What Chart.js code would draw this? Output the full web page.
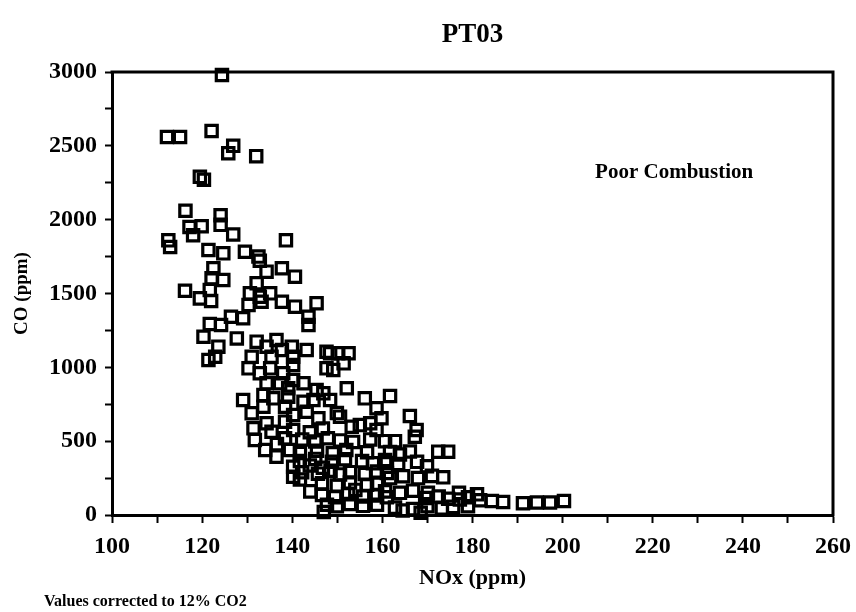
<!DOCTYPE html>
<html>
<head>
<meta charset="utf-8">
<title>PT03</title>
<script src="https://cdn.jsdelivr.net/npm/chart.js@4/dist/chart.umd.min.js"></script>
<style>
  html, body { margin: 0; padding: 0; background: #fff; }
  #wrap { width: 856px; height: 612px; }
</style>
</head>
<body>
<div id="wrap"><canvas id="chart" width="856" height="612"></canvas></div>
<script>
// Measured NOx (ppm) for each sample, paired index-by-index with coPpm
const noxPpm = [
  124.4, 112.2, 115.1, 122.1, 126.9, 125.8, 132.0, 119.5, 120.4, 116.3,
  124.1, 124.1, 117.2, 119.9, 118.0, 126.9, 112.5, 112.9, 138.6, 121.4,
  124.7, 129.5, 132.5, 132.8, 122.5, 124.7, 122.1, 132.1, 116.2, 119.5,
  122.0, 121.7, 130.6, 130.3, 132.8, 126.4, 129.1, 121.7, 124.2, 134.3,
  137.7, 140.6, 135.1, 137.7, 140.6, 133.2, 145.4, 143.6, 143.6, 120.3,
  127.7, 123.6, 122.9, 121.4, 132.1, 136.5, 134.3, 139.9, 131.0, 135.4,
  137.7, 140.2, 143.2, 147.6, 147.6, 130.3, 132.8, 135.1, 138.0, 140.2,
  134.3, 137.3, 140.2, 129.1, 133.6, 135.8, 139.1, 139.1, 142.5, 145.4,
  146.9, 131.0, 133.6, 138.4, 142.5, 144.7, 131.4, 134.3, 135.4, 138.4,
  140.2, 140.2, 143.2, 145.8, 131.7, 134.0, 136.5, 139.5, 138.4, 140.2,
  140.2, 148.4, 150.2, 152.5, 151.4, 149.1, 152.1, 156.1, 161.7, 158.7,
  159.8, 166.1, 148.4, 150.6, 153.2, 155.0, 157.3, 167.6, 167.2, 172.4,
  174.6, 149.9, 143.9, 146.8, 158.7, 136.6, 142.2, 145.1, 147.9, 150.6,
  153.5, 157.3, 160.6, 141.7, 145.5, 149.0, 152.0, 156.6, 141.7, 145.1,
  148.8, 151.7, 155.5, 157.9, 160.6, 142.2, 145.7, 148.5, 150.6, 152.8,
  156.1, 158.8, 161.0, 146.6, 149.9, 152.8, 156.6, 158.8, 146.6, 149.5,
  152.4, 155.7, 158.8, 161.0, 147.7, 149.9, 152.8, 155.7, 158.8, 141.7,
  143.9, 146.8, 162.8, 161.7, 163.9, 166.1, 161.0, 163.5, 167.7, 169.9,
  161.7, 164.6, 167.9, 171.0, 173.5, 160.6, 163.9, 166.8, 170.1, 169.5,
  172.5, 174.6, 177.2, 179.0, 181.7, 184.3, 186.8, 191.2, 194.3, 197.2,
  200.3, 162.8, 166.8, 170.0, 173.2, 175.7, 179.0, 177.0, 181.0, 144.0,
  154.0, 147.0, 164.5, 168.5
];

// Measured CO (ppm) for each sample
const coPpm = [
  2980, 2560, 2560, 2600, 2500, 2450, 2430, 2290, 2270, 2060,
  2030, 1965, 1950, 1955, 1895, 1900, 1860, 1815, 1860, 1795,
  1772, 1783, 1750, 1722, 1671, 1591, 1603, 1569, 1519, 1467,
  1449, 1524, 1501, 1422, 1478, 1343, 1332, 1293, 1287, 1648,
  1671, 1614, 1501, 1444, 1411, 1444, 1434, 1343, 1287, 1207,
  1196, 1140, 1072, 1050, 1174, 1185, 1140, 1140, 1072, 1072,
  1117, 1072, 1117, 1106,  993,  993,  960,  993,  960, 1016,
   892,  892,  914,  779,  813,  790,  801,  858,  892,  846,
   824,  689,  733,  733,  767,  779,  587,  621,  564,  632,
   576,  677,  700,  655,  508,  440,  395,  440,  519,  327,
   259, 1095, 1095, 1095, 1027,  982,  858,  790,  806,  723,
   655,  670,  779,  666,  598,  609,  621,  576,  530,  429,
   429,  690,  560,  585,  576,  480,  512,  498,  520,  505,
   495,  512,  500,  420,  435,  418,  440,  425,  365,  380,
   360,  378,  365,  350,  372,  290,  280,  300,  275,  290,
   278,  295,  285,  215,  200,  220,  205,  212,  135,  120,
   140,  125,  132,  120,   70,   60,   75,   62,   70,  240,
   335,  320,  500,  427,  410,  430,  352,  345,  360,  330,
   250,  262,  250,  265,  255,  160,  150,  165,  150,  115,
   125,  110,  105,  120,  100,   95,   88,   80,   85,   85,
    95,   50,   40,   60,   45,   55,   60,  150,  140,  160,
   170,   20,   30,   15
];

// Axis tick labels (every other tick carries a label)
const noxTickLabels = [100, 120, 140, 160, 180, 200, 220, 240, 260];
const coTickLabels = [0, 500, 1000, 1500, 2000, 2500, 3000];

const serif = '"Liberation Serif", "Times New Roman", serif';
const ink = '#000';

const samples = noxPpm.map((x, i) => ({ x: x, y: coPpm[i] }));

// Closes the plot frame (top and right edges) and writes the free text notes
const framePlugin = {
  id: 'frameAndNotes',
  afterDraw(chart) {
    const { ctx, chartArea: a, scales } = chart;
    ctx.save();
    ctx.strokeStyle = ink;
    ctx.lineWidth = 3;
    ctx.beginPath();
    ctx.moveTo(a.left - 1.5, a.top);
    ctx.lineTo(a.right, a.top);
    ctx.lineTo(a.right, a.bottom + 1.5);
    ctx.stroke();

    ctx.fillStyle = ink;
    ctx.textBaseline = 'middle';
    ctx.textAlign = 'left';
    ctx.font = 'bold 21px ' + serif;
    ctx.fillText('Poor Combustion', scales.x.getPixelForValue(207.2), scales.y.getPixelForValue(2322));

    ctx.font = 'bold 16px ' + serif;
    ctx.fillText('Values corrected to 12% CO2', 44, 602);
    ctx.restore();
  }
};

new Chart(document.getElementById('chart'), {
  type: 'scatter',
  data: {
    datasets: [{
      label: 'CO vs NOx',
      data: samples,
      pointStyle: 'rect',
      pointRadius: 8,
      borderWidth: 3.2,
      borderColor: ink,
      backgroundColor: 'rgba(255,255,255,0)',
      clip: false
    }]
  },
  options: {
    responsive: false,
    animation: false,
    events: [],
    layout: { padding: { left: 0, right: 23, top: 0, bottom: 0 } },
    plugins: {
      legend: { display: false },
      tooltip: { enabled: false },
      title: {
        display: true,
        text: 'PT03',
        fullSize: false,
        color: ink,
        font: { family: serif, size: 27, weight: 'bold' },
        padding: { top: 18.8, bottom: 20.8 }
      }
    },
    scales: {
      x: {
        type: 'linear',
        min: 100,
        max: 260,
        // the last tick label may overhang the frame into the right margin
        afterFit(s) { s.height = 97; s.paddingRight = 0; s.paddingLeft = 0; },
        border: { display: true, color: ink, width: 3 },
        grid: {
          drawOnChartArea: false,
          drawTicks: true,
          tickLength: 8,
          tickWidth: 2,
          tickColor: ink
        },
        ticks: {
          stepSize: 10,
          autoSkip: false,
          maxRotation: 0,
          padding: 9,
          color: ink,
          font: { family: serif, size: 24, weight: 'bold' },
          callback: v => noxTickLabels.includes(v) ? String(v) : ''
        },
        title: {
          display: true,
          text: 'NOx (ppm)',
          color: ink,
          font: { family: serif, size: 22, weight: 'bold' },
          padding: { top: 0, bottom: 20.8 }
        }
      },
      y: {
        type: 'linear',
        min: 0,
        max: 3000,
        afterFit(s) { s.width = 112; },
        border: { display: true, color: ink, width: 3 },
        grid: {
          drawOnChartArea: false,
          drawTicks: true,
          tickLength: 7,
          tickWidth: 2,
          tickColor: ink
        },
        ticks: {
          stepSize: 250,
          autoSkip: false,
          padding: 8,
          color: ink,
          font: { family: serif, size: 24, weight: 'bold' },
          callback: v => coTickLabels.includes(v) ? String(v) : ''
        },
        title: {
          display: true,
          text: 'CO (ppm)',
          color: ink,
          font: { family: serif, size: 19, weight: 'bold' },
          padding: { top: 10.6, bottom: 0 }
        }
      }
    }
  },
  plugins: [framePlugin]
});
</script>
</body>
</html>
